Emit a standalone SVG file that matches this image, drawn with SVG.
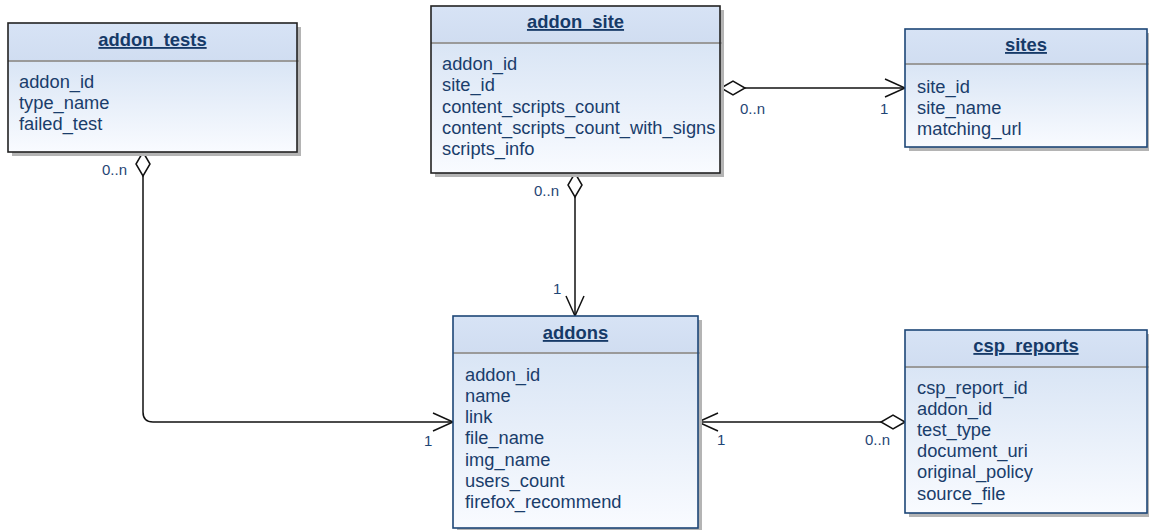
<svg xmlns="http://www.w3.org/2000/svg" width="1149" height="530" viewBox="0 0 1149 530">
  <defs>
    <linearGradient id="gHead" x1="0" y1="0" x2="0" y2="1">
      <stop offset="0" stop-color="#d7e3f5"/>
      <stop offset="1" stop-color="#d0ddf1"/>
    </linearGradient>
    <linearGradient id="gBody" x1="0" y1="0" x2="0" y2="1">
      <stop offset="0" stop-color="#d9e5f5"/>
      <stop offset="1" stop-color="#f9fbff"/>
    </linearGradient>
    <marker id="diamond" markerUnits="userSpaceOnUse" markerWidth="30" markerHeight="20" refX="0" refY="0" orient="auto" overflow="visible">
      <path d="M0,0 L12,-7 L24,0 L12,7 Z" fill="#ffffff" stroke="#111" stroke-width="1.5"/>
    </marker>
    <marker id="open" markerUnits="userSpaceOnUse" markerWidth="30" markerHeight="20" refX="0" refY="0" orient="auto" overflow="visible">
      <path d="M-20,-9 L0,0 L-20,9" fill="none" stroke="#111" stroke-width="1.5"/>
    </marker>
  </defs>
  <style>
    .shadow { fill: #b4b4b4; }
    .head { fill: url(#gHead); }
    .body { fill: url(#gBody); }
    .frame { fill: none; stroke-width: 1.6; }
    .dark { stroke: #222; }
    .blue { stroke: #1d4677; }
    .sep { stroke: #9a9a9a; stroke-width: 2; }
    .title { font-family: "Liberation Sans", Arial, sans-serif; font-size: 18.4px; font-weight: bold; fill: #163a68; text-anchor: middle; text-decoration: underline; }
    .field { font-family: "Liberation Sans", Arial, sans-serif; font-size: 18.3px; fill: #1a3d6b; }
    .mult { font-family: "Liberation Sans", Arial, sans-serif; font-size: 15px; fill: #1f4675; }
    .conn { fill: none; stroke: #111; stroke-width: 1.5; }
  </style>

  <!-- relationships -->
  <g id="connectors">
    <path class="conn" d="M143,152 V412 Q143,422 153,422 H453" marker-start="url(#diamond)" marker-end="url(#open)"/>
    <path class="conn" d="M721,88 H905" marker-start="url(#diamond)" marker-end="url(#open)"/>
    <path class="conn" d="M575,173 V316" marker-start="url(#diamond)" marker-end="url(#open)"/>
    <path class="conn" d="M905,422 H698" marker-start="url(#diamond)" marker-end="url(#open)"/>
    <text class="mult" x="102" y="175">0..n</text>
    <text class="mult" x="424" y="446">1</text>
    <text class="mult" x="740" y="114">0..n</text>
    <text class="mult" x="880" y="114">1</text>
    <text class="mult" x="534" y="196">0..n</text>
    <text class="mult" x="553" y="294">1</text>
    <text class="mult" x="717" y="445">1</text>
    <text class="mult" x="865" y="445">0..n</text>
  </g>

  <!-- addon_tests -->
  <g id="addon_tests">
    <rect class="shadow" x="12" y="27" width="289" height="129"/>
    <rect class="body" x="8" y="61" width="289" height="91"/>
    <rect class="head" x="8" y="23" width="289" height="38"/>
    <line class="sep" x1="8" y1="61" x2="299" y2="61"/>
    <rect class="frame dark" x="8" y="23" width="289" height="129"/>
    <text class="title" x="152.5" y="46">addon_tests</text>
    <text class="field" x="19" y="88">addon_id</text>
    <text class="field" x="19" y="109">type_name</text>
    <text class="field" x="19" y="130">failed_test</text>
  </g>

  <!-- addon_site -->
  <g id="addon_site">
    <rect class="shadow" x="435" y="10" width="289" height="167"/>
    <rect class="body" x="431" y="43" width="289" height="130"/>
    <rect class="head" x="431" y="6" width="289" height="37"/>
    <line class="sep" x1="431" y1="43" x2="722" y2="43"/>
    <rect class="frame dark" x="431" y="6" width="289" height="167"/>
    <text class="title" x="575.5" y="28">addon_site</text>
    <text class="field" x="442" y="70">addon_id</text>
    <text class="field" x="442" y="91">site_id</text>
    <text class="field" x="442" y="113">content_scripts_count</text>
    <text class="field" x="442" y="134">content_scripts_count_with_signs</text>
    <text class="field" x="442" y="155">scripts_info</text>
  </g>

  <!-- sites -->
  <g id="sites">
    <rect class="shadow" x="909" y="33" width="242" height="118"/>
    <rect class="body" x="905" y="64" width="242" height="83"/>
    <rect class="head" x="905" y="29" width="242" height="35"/>
    <line class="sep" x1="905" y1="64" x2="1149" y2="64"/>
    <rect class="frame blue" x="905" y="29" width="242" height="118"/>
    <text class="title" x="1026" y="51">sites</text>
    <text class="field" x="917" y="93">site_id</text>
    <text class="field" x="917" y="114">site_name</text>
    <text class="field" x="917" y="135">matching_url</text>
  </g>

  <!-- addons -->
  <g id="addons">
    <rect class="shadow" x="457" y="320" width="245" height="212"/>
    <rect class="body" x="453" y="353" width="245" height="175"/>
    <rect class="head" x="453" y="316" width="245" height="37"/>
    <line class="sep" x1="453" y1="353" x2="700" y2="353"/>
    <rect class="frame blue" x="453" y="316" width="245" height="212"/>
    <text class="title" x="575.5" y="339">addons</text>
    <text class="field" x="465" y="381">addon_id</text>
    <text class="field" x="465" y="402">name</text>
    <text class="field" x="465" y="423">link</text>
    <text class="field" x="465" y="444">file_name</text>
    <text class="field" x="465" y="466">img_name</text>
    <text class="field" x="465" y="487">users_count</text>
    <text class="field" x="465" y="508">firefox_recommend</text>
  </g>

  <!-- csp_reports -->
  <g id="csp_reports">
    <rect class="shadow" x="909" y="334" width="242" height="183"/>
    <rect class="body" x="905" y="367" width="242" height="146"/>
    <rect class="head" x="905" y="330" width="242" height="37"/>
    <line class="sep" x1="905" y1="367" x2="1149" y2="367"/>
    <rect class="frame blue" x="905" y="330" width="242" height="183"/>
    <text class="title" x="1026" y="352">csp_reports</text>
    <text class="field" x="917" y="394">csp_report_id</text>
    <text class="field" x="917" y="415">addon_id</text>
    <text class="field" x="917" y="436">test_type</text>
    <text class="field" x="917" y="457">document_uri</text>
    <text class="field" x="917" y="478">original_policy</text>
    <text class="field" x="917" y="500">source_file</text>
  </g>
</svg>
